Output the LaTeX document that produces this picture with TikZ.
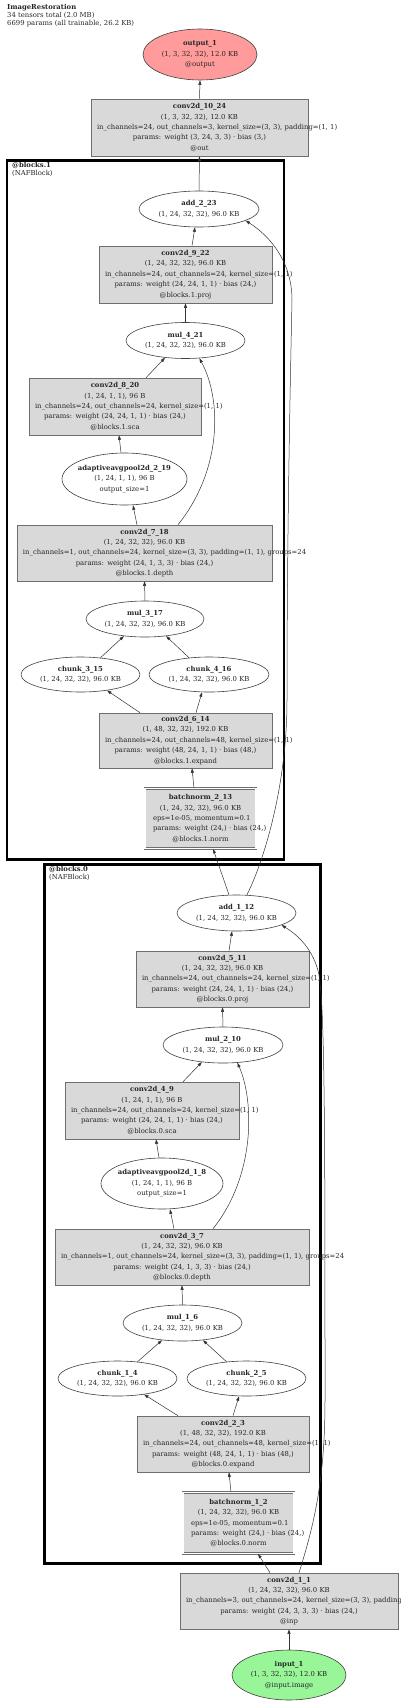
\documentclass[tikz,border=0pt]{standalone}
\usepackage{fontspec}
\setmainfont{DejaVu Serif}
\usepackage{tikz}
\usetikzlibrary{arrows.meta, backgrounds, shapes.geometric}
\definecolor{opfill}{RGB}{217, 217, 217}
\definecolor{opdraw}{RGB}{110, 110, 110}
\definecolor{outfill}{RGB}{255, 155, 155}
\definecolor{infill}{RGB}{152, 245, 152}
\newcommand{\nodefont}{\fontsize{6.85pt}{10.4pt}\selectfont}

\begin{document}
\begin{tikzpicture}[
  x=1pt, y=-1pt,
  every node/.style={font=\nodefont, text=black!85},
  opbox/.style={rectangle, draw=opdraw, fill=opfill, line width=0.6pt, inner xsep=6pt, inner ysep=2pt, minimum height=57pt, align=center},
  normbox/.style={opbox, double=white, double distance=1.6pt, inner xsep=8pt, minimum height=60pt},
  tensor/.style={ellipse, draw=black!75, line width=0.6pt, inner sep=0pt, minimum width=119pt, minimum height=36pt, align=center},
  poolnode/.style={tensor, inner xsep=-3pt, minimum width=124pt, minimum height=52pt},
  cluster/.style={rectangle, draw=black, line width=2.6pt, fill=white},
  clusterlabel/.style={anchor=north west, inner sep=0pt, align=left, font=\fontsize{6.85pt}{8pt}\selectfont},
  flow/.style={-{Triangle[length=4.5pt,width=3pt]}, draw=black!80, line width=0.5pt}
]
  \useasboundingbox (0,0) rectangle (400,1703);

  % Header
  \node[clusterlabel] (title) at (7,4) {\textbf{ImageRestoration}\\34 tensors total (2.0 MB)\\6699 params (all trainable, 26.2 KB)};

  % Output side
  \node[tensor, fill=outfill, minimum width=114pt, minimum height=51pt] (out1) at (200,54.5) {\textbf{output\_1}\\(1, 3, 32, 32), 12.0 KB\\@output};
  \node[opbox, text width=205pt] (conv10) at (199.5,127.5) {\textbf{conv2d\_10\_24}\\(1, 3, 32, 32), 12.0 KB\\\mbox{in\_channels=24, out\_channels=3, kernel\_size=(3, 3), padding=(1, 1)}\\params: weight (3, 24, 3, 3) · bias (3,)\\@out};

  % Block 1
  \node[tensor, minimum width=120pt] (add2) at (199,209) {\textbf{add\_2\_23}\\(1, 24, 32, 32), 96.0 KB};
  \node[opbox, text width=161pt] (conv9) at (185.5,274.5) {\textbf{conv2d\_9\_22}\\(1, 24, 32, 32), 96.0 KB\\\mbox{in\_channels=24, out\_channels=24, kernel\_size=(1, 1)}\\params: weight (24, 24, 1, 1) · bias (24,)\\@blocks.1.proj};
  \node[tensor] (mul4) at (185.5,340.5) {\textbf{mul\_4\_21}\\(1, 24, 32, 32), 96.0 KB};
  \node[opbox, text width=160pt] (conv8) at (115,406.5) {\textbf{conv2d\_8\_20}\\(1, 24, 1, 1), 96 B\\\mbox{in\_channels=24, out\_channels=24, kernel\_size=(1, 1)}\\params: weight (24, 24, 1, 1) · bias (24,)\\@blocks.1.sca};
  \node[poolnode, minimum width=125pt] (pool2) at (124.5,479) {\textbf{adaptiveavgpool2d\_2\_19}\\(1, 24, 1, 1), 96 B\\output\_size=1};
  \node[opbox, text width=243pt, minimum height=56pt] (conv7) at (144.5,553) {\textbf{conv2d\_7\_18}\\(1, 24, 32, 32), 96.0 KB\\\mbox{in\_channels=1, out\_channels=24, kernel\_size=(3, 3), padding=(1, 1), groups=24}\\params: weight (24, 1, 3, 3) · bias (24,)\\@blocks.1.depth};
  \node[tensor, minimum width=118pt] (mul3) at (145,619) {\textbf{mul\_3\_17}\\(1, 24, 32, 32), 96.0 KB};
  \node[tensor, minimum height=35pt] (chunk3) at (80.5,674.5) {\textbf{chunk\_3\_15}\\(1, 24, 32, 32), 96.0 KB};
  \node[tensor, minimum width=120pt, minimum height=35pt] (chunk4) at (209,674.5) {\textbf{chunk\_4\_16}\\(1, 24, 32, 32), 96.0 KB};
  \node[opbox, text width=161pt, minimum height=55pt] (conv6) at (185.5,740.5) {\textbf{conv2d\_6\_14}\\(1, 48, 32, 32), 192.0 KB\\\mbox{in\_channels=24, out\_channels=48, kernel\_size=(1, 1)}\\params: weight (48, 24, 1, 1) · bias (48,)\\@blocks.1.expand};
  \node[normbox, text width=95pt] (bn2) at (200.5,818.5) {\textbf{batchnorm\_2\_13}\\(1, 24, 32, 32), 96.0 KB\\\mbox{eps=1e-05, momentum=0.1}\\\mbox{params: weight (24,) · bias (24,)}\\@blocks.1.norm};

  % Block 0
  \node[tensor] (add1) at (236.5,913) {\textbf{add\_1\_12}\\(1, 24, 32, 32), 96.0 KB};
  \node[opbox, text width=161pt, minimum height=56pt] (conv5) at (222.5,979) {\textbf{conv2d\_5\_11}\\(1, 24, 32, 32), 96.0 KB\\\mbox{in\_channels=24, out\_channels=24, kernel\_size=(1, 1)}\\params: weight (24, 24, 1, 1) · bias (24,)\\@blocks.0.proj};
  \node[tensor, minimum width=120pt] (mul2) at (223,1045) {\textbf{mul\_2\_10}\\(1, 24, 32, 32), 96.0 KB};
  \node[opbox, text width=162pt] (conv4) at (152,1110.5) {\textbf{conv2d\_4\_9}\\(1, 24, 1, 1), 96 B\\\mbox{in\_channels=24, out\_channels=24, kernel\_size=(1, 1)}\\params: weight (24, 24, 1, 1) · bias (24,)\\@blocks.0.sca};
  \node[poolnode, minimum width=122pt, minimum height=51pt] (pool1) at (162,1183.5) {\textbf{adaptiveavgpool2d\_1\_8}\\(1, 24, 1, 1), 96 B\\output\_size=1};
  \node[opbox, text width=242pt, minimum height=56pt] (conv3) at (182,1257) {\textbf{conv2d\_3\_7}\\(1, 24, 32, 32), 96.0 KB\\\mbox{in\_channels=1, out\_channels=24, kernel\_size=(3, 3), padding=(1, 1), groups=24}\\params: weight (24, 1, 3, 3) · bias (24,)\\@blocks.0.depth};
  \node[tensor] (mul1) at (182.5,1323) {\textbf{mul\_1\_6}\\(1, 24, 32, 32), 96.0 KB};
  \node[tensor, minimum height=35pt] (chunk1) at (117.5,1378.5) {\textbf{chunk\_1\_4}\\(1, 24, 32, 32), 96.0 KB};
  \node[tensor, minimum height=35pt] (chunk2) at (246.5,1378.5) {\textbf{chunk\_2\_5}\\(1, 24, 32, 32), 96.0 KB};
  \node[opbox, text width=160pt, minimum height=56pt] (conv2) at (223,1444) {\textbf{conv2d\_2\_3}\\(1, 48, 32, 32), 192.0 KB\\\mbox{in\_channels=24, out\_channels=48, kernel\_size=(1, 1)}\\params: weight (48, 24, 1, 1) · bias (48,)\\@blocks.0.expand};
  \node[normbox, text width=95pt, minimum height=61pt] (bn1) at (238.5,1523) {\textbf{batchnorm\_1\_2}\\(1, 24, 32, 32), 96.0 KB\\\mbox{eps=1e-05, momentum=0.1}\\\mbox{params: weight (24,) · bias (24,)}\\@blocks.0.norm};

  % Input side
  \node[opbox, text width=206pt, minimum height=56pt] (conv1) at (289,1601) {\textbf{conv2d\_1\_1}\\(1, 24, 32, 32), 96.0 KB\\\mbox{in\_channels=3, out\_channels=24, kernel\_size=(3, 3), padding=(1, 1)}\\params: weight (24, 3, 3, 3) · bias (24,)\\@inp};
  \node[tensor, fill=infill, minimum width=114pt, minimum height=50pt] (in1) at (289,1675) {\textbf{input\_1}\\(1, 3, 32, 32), 12.0 KB\\@input.image};

  % Clusters
  \begin{scope}[on background layer]
    \node[cluster, minimum width=277pt, minimum height=699pt] (block1) at (145.5,509.8) {};
    \node[cluster, minimum width=276pt, minimum height=699pt] (block0) at (182.6,1214.1) {};
  \end{scope}
  \node[clusterlabel] (block1label) at (12,162) {\textbf{@blocks.1}\\(NAFBlock)};
  \node[clusterlabel] (block0label) at (49,866.5) {\textbf{@blocks.0}\\(NAFBlock)};

  % Arrows
  \draw[flow] (conv10.north) -- (out1.south);
  \draw[flow] (add2.north) -- (conv10.south);
  \draw[flow] ([xshift=6.5pt]conv9.north) -- ([xshift=-4pt]add2.south);
  \draw[flow] (mul4.north) -- (conv9.south);
  \draw[flow] ([xshift=31pt]conv8.north) -- (mul4.-140);
  \draw[flow] ([xshift=-3.5pt]pool2.north) -- ([xshift=4pt]conv8.south);
  \draw[flow] ([xshift=-7.5pt]conv7.north) -- ([xshift=8.5pt]pool2.south);
  \draw[flow] ([xshift=33.5pt]conv7.north) .. controls (222,470) and (222,400) .. (mul4.-52);
  \draw[flow] (mul3.north) -- (conv7.south);
  \draw[flow] (chunk3.40) -- (mul3.-141);
  \draw[flow] (chunk4.140) -- (mul3.-39);
  \draw[flow] ([xshift=-45.5pt]conv6.north) -- (chunk3.-31);
  \draw[flow] ([xshift=10.5pt]conv6.north) -- ([xshift=-7pt]chunk4.south);
  \draw[flow] ([xshift=-6.5pt]bn2.north) -- ([xshift=6.5pt]conv6.south);
  \draw[flow] ([xshift=-7.5pt]add1.north) -- ([xshift=12.5pt]bn2.south);
  \draw[flow] ([xshift=10.5pt]add1.north) .. controls (262,865) and (287,790) .. (287,700) .. controls (287,520) and (291,350) .. (292,300) .. controls (292,262) and (270,236) .. (add2.-14);
  \draw[flow] ([xshift=6.5pt]conv5.north) -- ([xshift=-4.5pt]add1.south);
  \draw[flow] (mul2.north) -- (conv5.south);
  \draw[flow] ([xshift=31pt]conv4.north) -- (mul2.-141);
  \draw[flow] ([xshift=-3pt]pool1.north) -- ([xshift=4pt]conv4.south);
  \draw[flow] ([xshift=-8pt]conv3.north) -- ([xshift=8pt]pool1.south);
  \draw[flow] ([xshift=31pt]conv3.north) .. controls (256,1175) and (254,1100) .. (mul2.-51);
  \draw[flow] (mul1.north) -- (conv3.south);
  \draw[flow] (chunk1.40) -- (mul1.-140);
  \draw[flow] (chunk2.140) -- (mul1.-40);
  \draw[flow] ([xshift=-45pt]conv2.north) -- (chunk1.-31);
  \draw[flow] ([xshift=10pt]conv2.north) -- ([xshift=-7.5pt]chunk2.south);
  \draw[flow] ([xshift=-7.5pt]bn1.north) -- ([xshift=6pt]conv2.south);
  \draw[flow] ([xshift=-19pt]conv1.north) -- ([xshift=19.5pt]bn1.south);
  \draw[flow] ([xshift=10pt]conv1.north) .. controls (314,1525) and (325,1480) .. (325,1400) .. controls (325,1150) and (325,1010) .. (319,975) .. controls (314,950) and (298,935) .. (add1.-15);
  \draw[flow] (in1.north) -- (conv1.south);

\end{tikzpicture}
\end{document}
